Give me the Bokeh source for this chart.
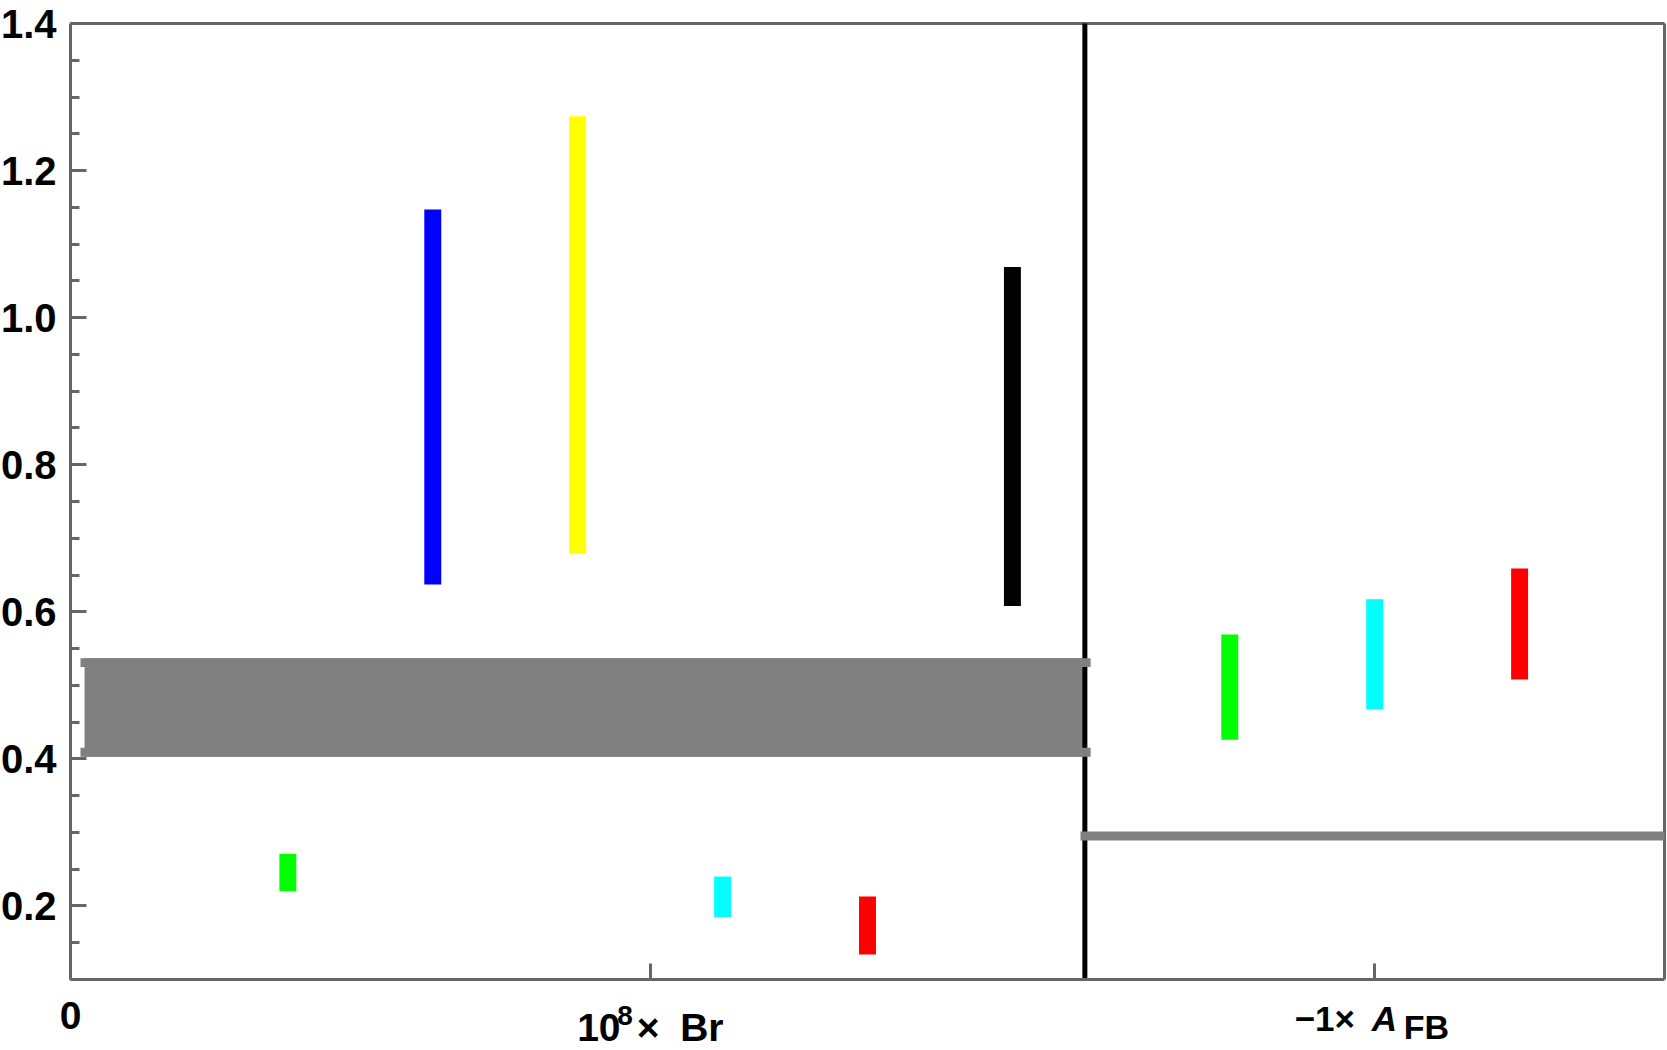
from bokeh.plotting import figure
from bokeh.models import Range1d, FixedTicker, ColumnDataSource
from bokeh.core.properties import value
from bokeh.embed import file_html
from bokeh.resources import INLINE

# ---- data ----
left_x = [1.5, 2.5, 3.5, 4.5, 5.5, 6.5]
left_low = [0.220, 0.637, 0.679, 0.185, 0.134, 0.608]
left_high = [0.271, 1.147, 1.274, 0.240, 0.213, 1.069]
left_colors = ["#00FF00", "#0000FF", "#FFFF00", "#00FFFF", "#FF0000", "#000000"]

right_x = [8.0, 9.0, 10.0]
right_low = [0.426, 0.467, 0.508]
right_high = [0.569, 0.617, 0.659]
right_colors = ["#00FF00", "#00FFFF", "#FF0000"]

band_low = 0.403
band_high = 0.537
band_x0 = 0.097
band_x1 = 7.01
cap_x0 = 0.069
cap_x1 = 7.04
cap_h = 0.0122

afb_line_y = 0.295
afb_line_x0 = 6.97
afb_line_x1 = 11.0

divider_x = 7.0

x_start, x_end = 0.0, 11.0
y_start, y_end = 0.1, 1.4
y_ticks = [0.2, 0.4, 0.6, 0.8, 1.0, 1.2, 1.4]
y_tick_labels = ["0.2", "0.4", "0.6", "0.8", "1.0", "1.2", "1.4"]
y_minor = [round(0.1 + 0.05 * i, 2) for i in range(27)]
x_major = [0]
x_major_labels = ["0"]
x_label_ticks = [4, 9]
br_label = ["10", "8", "\u00d7", "Br"]
afb_label = ["\u22121\u00d7", "A", "FB"]

FONT = "Liberation Sans"
AX = "#666666"
GRAY = "#808080"

# ---- geometry (pixels) ----
W, H = 1666, 1050
PAD_LEFT, PAD_RIGHT, PAD_TOP, PAD_BOT = 70, 2, 23, 71   # room around the data box
PX_X = (W - PAD_LEFT - PAD_RIGHT) / (x_end - x_start)
PX_Y = (H - PAD_TOP - PAD_BOT) / (y_end - y_start)

p = figure(width=W, height=H, output_backend="svg", toolbar_location=None, title=None,
           x_range=Range1d(x_start - PAD_LEFT / PX_X, x_end + PAD_RIGHT / PX_X),
           y_range=Range1d(y_start - PAD_BOT / PX_Y, y_end + PAD_TOP / PX_Y),
           min_border_left=0, min_border_right=0, min_border_top=0, min_border_bottom=0)
p.grid.visible = False
p.outline_line_color = None
p.background_fill_color = "white"
p.border_fill_color = "white"

for ax in (p.xaxis[0], p.yaxis[0]):
    ax.axis_line_color = AX
    ax.axis_line_width = 3
    ax.major_tick_line_color = AX
    ax.major_tick_line_width = 3
    ax.minor_tick_line_color = AX
    ax.minor_tick_line_width = 3
    ax.major_tick_in = 16
    ax.major_tick_out = 0
    ax.minor_tick_out = 0
    ax.major_label_text_font = FONT
    ax.major_label_text_font_style = "bold"
    ax.major_label_text_color = "black"
    ax.major_label_text_font_size = "40px"

yax = p.yaxis[0]
yax.fixed_location = x_start
yax.bounds = (y_start, y_end)
yax.ticker = FixedTicker(ticks=y_ticks, minor_ticks=y_minor)
yax.major_label_overrides = {t: s for t, s in zip(y_ticks, y_tick_labels)}
yax.major_label_standoff = 14
yax.minor_tick_in = 9

xax = p.xaxis[0]
xax.fixed_location = y_start
xax.bounds = (x_start, x_end)
xax.ticker = FixedTicker(ticks=x_major, minor_ticks=x_label_ticks)
xax.major_label_overrides = {t: s for t, s in zip(x_major, x_major_labels)}
xax.major_label_text_font_size = "39px"
xax.minor_tick_in = 16
xax.major_label_standoff = 22

# top and right edges of the box
p.segment(x0=[x_start, x_end], y0=[y_end, y_start], x1=[x_end, x_end], y1=[y_end, y_end],
          line_color=AX, line_width=3)

# gray band (body)
p.quad(left=[band_x0], right=[band_x1], bottom=[band_low], top=[band_high],
       fill_color=GRAY, line_color=None)

# divider line
p.segment(x0=[divider_x], y0=[y_start], x1=[divider_x], y1=[y_end], line_color="black", line_width=5)

# band caps
p.quad(left=[cap_x0, cap_x0], right=[cap_x1, cap_x1],
       bottom=[band_high - cap_h, band_low], top=[band_high, band_low + cap_h],
       fill_color=GRAY, line_color=None)

# A_FB horizontal line
p.segment(x0=[afb_line_x0], y0=[afb_line_y], x1=[afb_line_x1], y1=[afb_line_y],
          line_color=GRAY, line_width=9)

# bars
src_l = ColumnDataSource(dict(x=left_x, bottom=left_low, top=left_high, color=left_colors))
p.vbar(x="x", bottom="bottom", top="top", width=0.117, fill_color="color",
       line_color=None, source=src_l)
src_r = ColumnDataSource(dict(x=right_x, bottom=right_low, top=right_high, color=right_colors))
p.vbar(x="x", bottom="bottom", top="top", width=0.117, fill_color="color",
       line_color=None, source=src_r)

# ---- x category labels under the axis (position given in px below the axis) ----
def lab(x, text, xoff, px_below, size, align="left", style="bold"):
    p.text(x=[x], y=[y_start - px_below / PX_Y], text=[text], x_offset=xoff, text_align=align,
           text_baseline="alphabetic", text_font=value(FONT), text_font_style=style,
           text_font_size=size, text_color="black")

lab(x_label_ticks[0], br_label[0], -73, 48, "39px")
lab(x_label_ticks[0], br_label[1], -33, 36, "28px")
lab(x_label_ticks[0], br_label[2], -2, 48, "39px", align="center")
lab(x_label_ticks[0], br_label[3], 30, 48, "39px")

lab(x_label_ticks[1], afb_label[0], -80, 39, "35px")
lab(x_label_ticks[1], afb_label[1], -3, 39, "35px", style="bold italic")
lab(x_label_ticks[1], afb_label[2], 29, 47, "34px")

open("out.html", "w").write(file_html(p, INLINE))
